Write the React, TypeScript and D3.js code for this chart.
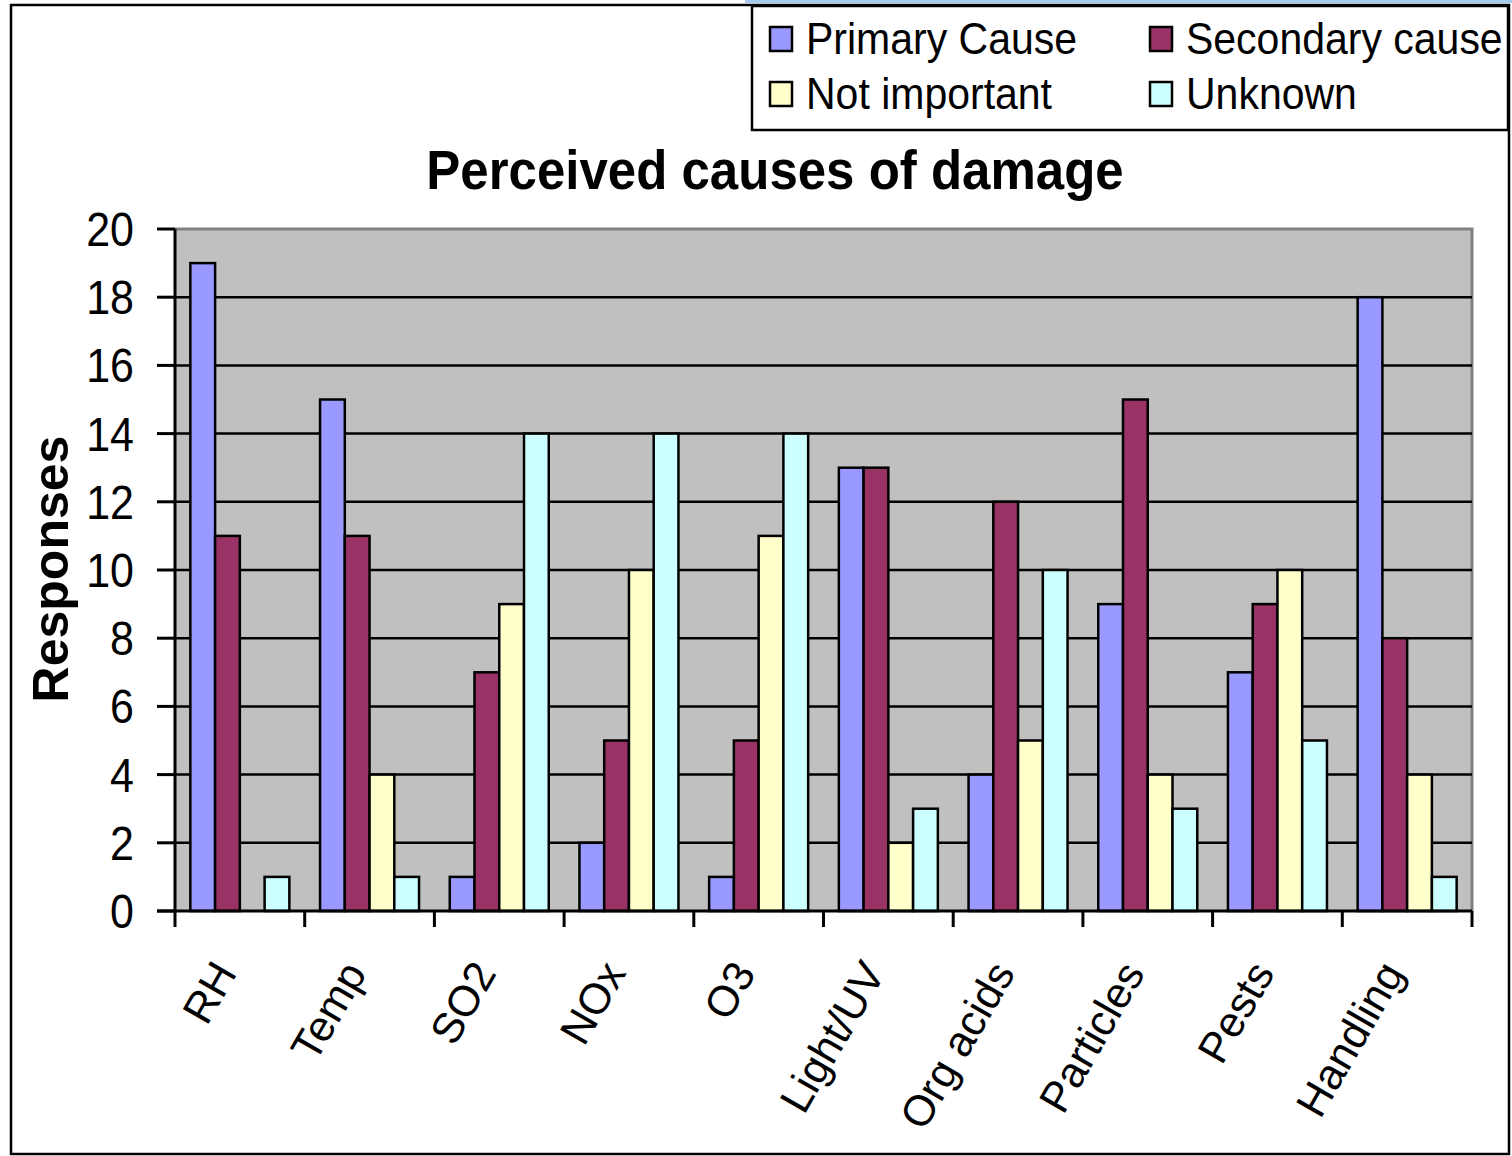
import React from "react";
import * as d3 from "d3";

const categories = ["RH", "Temp", "SO2", "NOx", "O3", "Light/UV", "Org acids", "Particles", "Pests", "Handling"];
const seriesNames = ["Primary Cause", "Secondary cause", "Not important", "Unknown"];
const primary = [19, 15, 1, 2, 1, 13, 4, 9, 7, 18];
const secondary = [11, 11, 7, 5, 5, 13, 12, 15, 9, 8];
const notImportant = [0, 4, 9, 10, 11, 2, 5, 4, 10, 4];
const unknown = [1, 1, 14, 14, 14, 3, 10, 3, 5, 1];
const seriesColors = ["#9999FF", "#993366", "#FFFFCC", "#CCFFFF"];
const yTicks = [0, 2, 4, 6, 8, 10, 12, 14, 16, 18, 20];

const W = 1512;
const H = 1156;
const plot = { left: 175, right: 1472, top: 229, bottom: 911 };
const FONT = "'Liberation Sans', Arial, Helvetica, sans-serif";
const SY = 1.1;

export default function App() {
  const allSeries = [primary, secondary, notImportant, unknown];
  const x0 = d3.scaleBand<string>().domain(categories).range([plot.left, plot.right]).padding(0);
  const x1 = d3
    .scaleBand<string>()
    .domain(seriesNames)
    .range([0, x0.bandwidth()])
    .paddingInner(0)
    .paddingOuter(0.62);
  const y = d3.scaleLinear().domain([0, 20]).range([plot.bottom, plot.top]);

  const boundaries = categories.map((c) => x0(c) as number).concat([plot.right]);

  const legendItems = [
    { name: seriesNames[0], color: seriesColors[0], x: 770, y: 27 },
    { name: seriesNames[1], color: seriesColors[1], x: 1150, y: 27 },
    { name: seriesNames[2], color: seriesColors[2], x: 770, y: 82 },
    { name: seriesNames[3], color: seriesColors[3], x: 1150, y: 82 },
  ];

  return (
    <svg width={W} height={H} style={{ display: "block", position: "absolute", left: 0, top: 0 }} fontFamily={FONT}>
      <rect x={0} y={0} width={W} height={H} fill="#ffffff" />
      <rect x={745} y={0} width={W - 745} height={3} fill="#A6CAF0" />
      {/* outer frame */}
      <rect x={11} y={5} width={1498} height={1149} fill="none" stroke="#000" strokeWidth={2.5} />

      {/* plot area */}
      <rect
        x={plot.left}
        y={plot.top}
        width={plot.right - plot.left}
        height={plot.bottom - plot.top}
        fill="#C0C0C0"
      />
      <path
        d={`M${plot.left},${plot.top}H${plot.right}V${plot.bottom}`}
        fill="none"
        stroke="#808080"
        strokeWidth={3}
      />
      {/* gridlines */}
      {yTicks
        .filter((t) => t !== 0 && t !== 20)
        .map((t) => (
          <line key={"g" + t} x1={plot.left} x2={plot.right} y1={y(t)} y2={y(t)} stroke="#000" strokeWidth={2.5} />
        ))}

      {/* bars */}
      {categories.map((c, ci) => (
        <g key={c}>
          {allSeries.map((s, si) => {
            const v = s[ci];
            if (v <= 0) return null;
            const bx = (x0(c) as number) + (x1(seriesNames[si]) as number);
            return (
              <rect
                key={si}
                x={bx}
                y={y(v)}
                width={x1.bandwidth()}
                height={y(0) - y(v)}
                fill={seriesColors[si]}
                stroke="#000"
                strokeWidth={2.5}
              />
            );
          })}
        </g>
      ))}

      {/* axes */}
      <line x1={plot.left} x2={plot.left} y1={plot.top} y2={plot.bottom} stroke="#000" strokeWidth={3} />
      <line x1={157} x2={plot.right} y1={plot.bottom} y2={plot.bottom} stroke="#000" strokeWidth={3} />
      {yTicks.map((t) => (
        <g key={"yt" + t}>
          <line x1={157} x2={plot.left} y1={y(t)} y2={y(t)} stroke="#000" strokeWidth={3} />
          <text
            transform={`translate(134,${y(t)}) scale(1,${SY})`}
            dy="0.36em"
            textAnchor="end"
            fontSize={43}
            fill="#000"
          >
            {t}
          </text>
        </g>
      ))}
      {boundaries.map((b, i) => (
        <line key={"xt" + i} x1={b} x2={b} y1={plot.bottom} y2={927} stroke="#000" strokeWidth={3} />
      ))}
      {categories.map((c) => {
        const cx = (x0(c) as number) + x0.bandwidth() / 2 - 2;
        const cy = 973;
        return (
          <text
            key={"xl" + c}
            transform={`translate(${cx},${cy}) rotate(-60)`}
            textAnchor="end"
            fontSize={43}
            fill="#000"
          >
            {c}
          </text>
        );
      })}

      {/* title */}
      <text
        transform={`translate(775,189) scale(1,${SY})`}
        textAnchor="middle"
        fontSize={51}
        fontWeight="bold"
        fill="#000"
      >
        Perceived causes of damage
      </text>
      <text
        transform={`translate(68,569) rotate(-90)`}
        textAnchor="middle"
        fontSize={50}
        fontWeight="bold"
        fill="#000"
      >
        Responses
      </text>

      {/* legend */}
      <rect x={752} y={6} width={756} height={124} fill="#fff" stroke="#000" strokeWidth={2.5} />
      {legendItems.map((it) => (
        <g key={it.name}>
          <rect x={it.x} y={it.y} width={22} height={24} fill={it.color} stroke="#000" strokeWidth={2.5} />
          <text
            transform={`translate(${it.x + 36},${it.y + 27}) scale(1,${SY})`}
            fontSize={41}
            fill="#000"
          >
            {it.name}
          </text>
        </g>
      ))}
    </svg>
  );
}
